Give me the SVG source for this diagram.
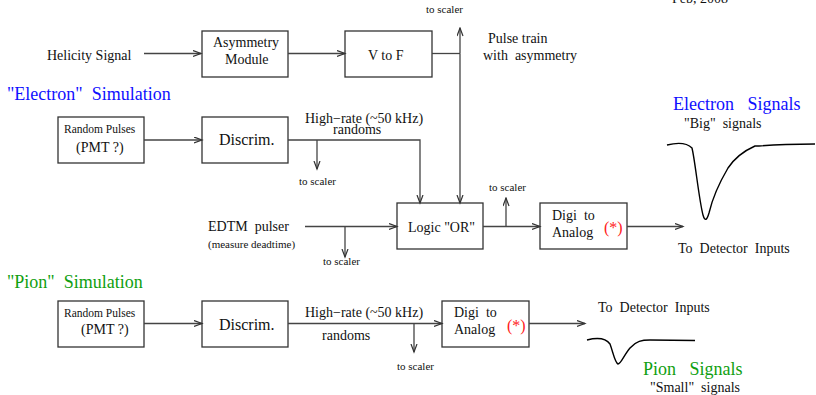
<svg xmlns="http://www.w3.org/2000/svg" width="816" height="395" viewBox="0 0 816 395">
<style>
text{font-family:"Liberation Serif","Times New Roman",serif;fill:#111;white-space:pre}
.box{fill:#fff;stroke:#333;stroke-width:1.3}
.ln{fill:none;stroke:#444;stroke-width:1.3}
.sig{fill:none;stroke:#000;stroke-width:1.4;stroke-linejoin:round}
.s11{font-size:11px}.s14{font-size:14px}.s16{font-size:16px}.s18{font-size:18px}
.blue{fill:#1010ff}.green{fill:#10a010}.red{fill:#ff2020}
</style>
<defs>
<marker id="ah" markerUnits="userSpaceOnUse" markerWidth="10" markerHeight="8" refX="8.5" refY="3.5" orient="auto">
<path d="M0.5,0.5 L8.5,3.5 L0.5,6.5" fill="none" stroke="#333" stroke-width="1.2"/>
</marker>
</defs>
<text x="672" y="3" class="s14">Feb, 2008</text>
<text x="47" y="60" class="s14">Helicity Signal</text>
<g id="asym"><rect class="box" x="202" y="31" width="86" height="46"/>
<text x="213" y="47" class="s14">Asymmetry</text><text x="225" y="64" class="s14">Module</text></g>
<g id="vtof"><rect class="box" x="345" y="31" width="87" height="46"/>
<text x="368" y="60" class="s14">V to F</text></g>
<text x="426" y="13" class="s11">to scaler</text>
<text x="488" y="43" class="s14">Pulse train</text>
<text x="483" y="60" class="s14">with  asymmetry</text>
<text x="7" y="100" class="s18 blue">"Electron"  Simulation</text>
<text x="673" y="110" class="s18 blue">Electron   Signals</text>
<text x="684" y="128" class="s14">"Big"  signals</text>
<g id="erand"><rect class="box" x="58" y="117" width="86" height="46"/>
<text x="64" y="133" style="font-size:11.5px">Random Pulses</text><text x="76" y="152" class="s14">(PMT ?)</text></g>
<g id="ediscrim"><rect class="box" x="202" y="117" width="86" height="46"/>
<text x="219" y="145" class="s16">Discrim.</text></g>
<text x="305" y="123" class="s14">High−rate (~50 kHz)</text>
<text x="333" y="134" class="s14">randoms</text>
<text x="299" y="185" class="s11">to scaler</text>
<text x="208" y="231" class="s14">EDTM  pulser</text>
<text x="208" y="248" class="s11">(measure deadtime)</text>
<text x="323" y="265" class="s11">to scaler</text>
<g id="logic"><rect class="box" x="397" y="203" width="86" height="46"/>
<text x="408" y="232" class="s14">Logic "OR"</text></g>
<text x="489" y="191" class="s11">to scaler</text>
<g id="edigi"><rect class="box" x="540" y="203" width="87" height="46"/>
<text x="552" y="220" class="s14">Digi  to</text><text x="552" y="237" class="s14">Analog</text>
<text x="604" y="233" class="s16 red">(*)</text></g>
<text x="678" y="253" class="s14">To  Detector  Inputs</text>
<text x="7" y="288" class="s18 green">"Pion"  Simulation</text>
<g id="prand"><rect class="box" x="58" y="301" width="86" height="46"/>
<text x="64" y="317" style="font-size:11.5px">Random Pulses</text><text x="81" y="334" class="s14">(PMT ?)</text></g>
<g id="pdiscrim"><rect class="box" x="202" y="301" width="86" height="46"/>
<text x="219" y="330" class="s16">Discrim.</text></g>
<text x="305" y="317" class="s14">High−rate (~50 kHz)</text>
<text x="322" y="340" class="s14">randoms</text>
<text x="397" y="370" class="s11">to scaler</text>
<g id="pdigi"><rect class="box" x="442" y="301" width="87" height="46"/>
<text x="454" y="317" class="s14">Digi  to</text><text x="454" y="334" class="s14">Analog</text>
<text x="507" y="331" class="s16 red">(*)</text></g>
<text x="598" y="312" class="s14">To  Detector  Inputs</text>
<text x="643" y="375" class="s18 green">Pion   Signals</text>
<text x="650" y="392" class="s14">"Small"  signals</text>
<g id="connectors">
<path class="ln" d="M144,53.5 H201" marker-end="url(#ah)"/>
<path class="ln" d="M288,53.5 H345" marker-end="url(#ah)"/>
<path class="ln" d="M432,53.5 H460"/>
<path class="ln" d="M460,53.5 V28" marker-end="url(#ah)"/>
<path class="ln" d="M460,53.5 V203" marker-end="url(#ah)"/>
<path class="ln" d="M144,140 H202" marker-end="url(#ah)"/>
<path class="ln" d="M288,140 H420 V203" marker-end="url(#ah)"/>
<path class="ln" d="M317,140 V169" marker-end="url(#ah)"/>
<path class="ln" d="M305,226.5 H397" marker-end="url(#ah)"/>
<path class="ln" d="M345,226.5 V257" marker-end="url(#ah)"/>
<path class="ln" d="M483,226.5 H540" marker-end="url(#ah)"/>
<path class="ln" d="M506,226.5 V198" marker-end="url(#ah)"/>
<path class="ln" d="M627,226.5 H683" marker-end="url(#ah)"/>
<path class="ln" d="M144,323.5 H202" marker-end="url(#ah)"/>
<path class="ln" d="M288,323.5 H442" marker-end="url(#ah)"/>
<path class="ln" d="M414,323.5 V352" marker-end="url(#ah)"/>
<path class="ln" d="M529,323.5 H585" marker-end="url(#ah)"/>
</g>
<path class="sig" d="M667,145 C675,143 686,142 692,148 C695,160 699,200 703,215 C705,222 707,220 709,213 C712,200 718,185 728,168 C736,156 746,150 755,146 L759,146 C770,145 800,144 815,144"/>
<path class="sig" d="M587,340 C595,338 605,337 610,344 C613,352 615,363 618,364 C621,364 624,355 630,348 C636,341 642,340 650,340 L695,340.5"/>
</svg>
